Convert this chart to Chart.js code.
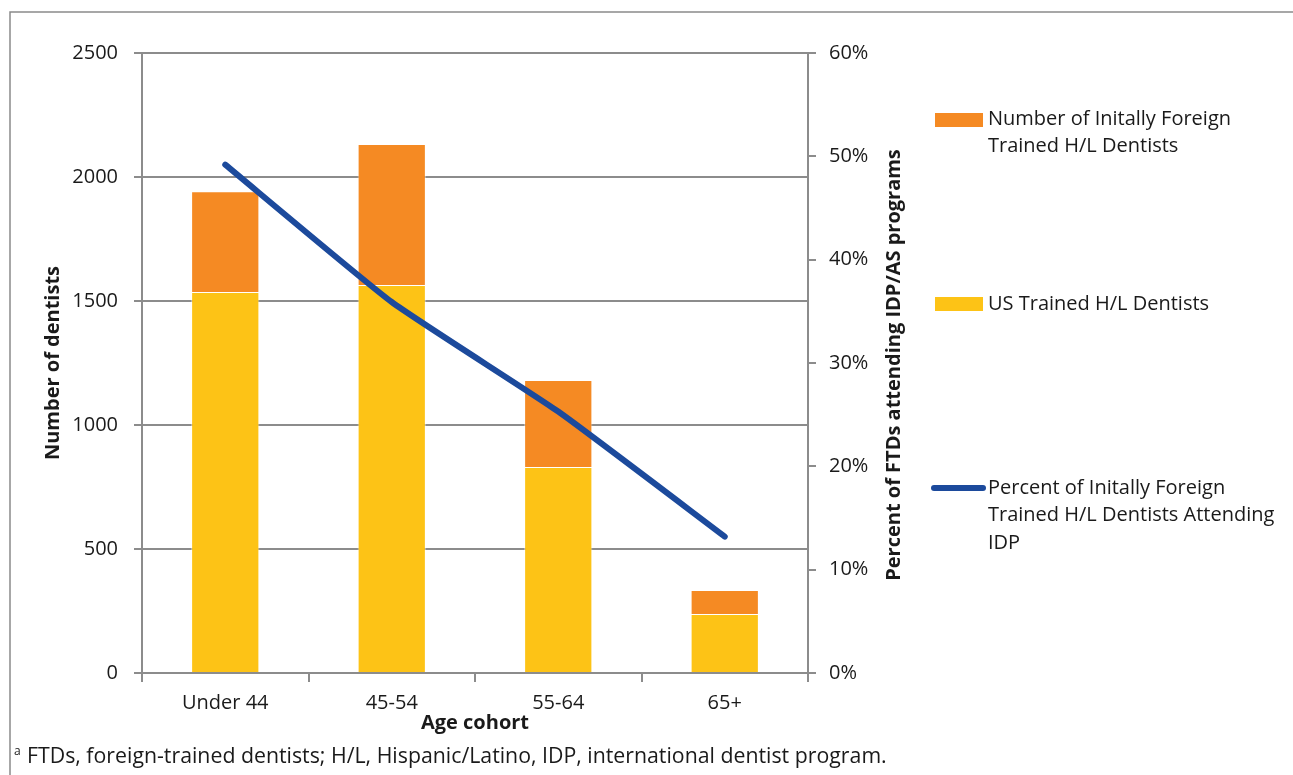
<!DOCTYPE html>
<html>
<head>
<meta charset="utf-8">
<script src="https://cdn.jsdelivr.net/npm/chart.js@4.4.1/dist/chart.umd.min.js"></script>
<style>
  html, body { margin: 0; padding: 0; background: #fff; }
  #wrap { position: relative; width: 1293px; height: 775px; }
  canvas { display: block; }
</style>
</head>
<body>
<div id="wrap"><canvas id="c" width="1293" height="775"></canvas></div>
<script>
// Age cohorts and dentist counts
const ageCohorts = ['Under 44', '45-54', '55-64', '65+'];
const usTrained = [1536, 1565, 831, 238];
const foreignTrained = [407, 568, 350, 97];
// Share of initially foreign-trained dentists who attended an IDP (%)
const pctAttendingIdp = [49.2, 35.9, 25.3, 13.2];

const countAxis = { min: 0, max: 2500, step: 500 };
const pctAxis = { min: 0, max: 60, step: 10 };

const legendLabels = {
  foreign: ['Number of Initally Foreign', 'Trained H/L Dentists'],
  us: ['US Trained H/L Dentists'],
  pct: ['Percent of Initally Foreign', 'Trained H/L Dentists Attending', 'IDP']
};
const footnote = 'FTDs, foreign-trained dentists; H/L, Hispanic/Latino, IDP, international dentist program.';

const FONT = '"Open Sans", "DejaVu Sans", sans-serif';
const FS = 20;
const GRID = '#8c8c8c';
const INK = '#1a1a1a';
const ORANGE = '#F58A23';
const YELLOW = '#FDC316';
const BLUE = '#1C4A9C';

// Frame, right-hand axis title, legend and footnote
const decorations = {
  id: 'decorations',
  afterDraw(chart) {
    const ctx = chart.ctx;
    const area = chart.chartArea;
    ctx.save();

    // frame
    ctx.strokeStyle = '#8a8a8a';
    ctx.lineWidth = 1.5;
    ctx.beginPath();
    ctx.moveTo(10, 775);
    ctx.lineTo(10, 12);
    ctx.lineTo(1293, 12);
    ctx.stroke();

    // right axis title, reading bottom to top
    ctx.fillStyle = INK;
    ctx.font = 'bold ' + FS + 'px ' + FONT;
    ctx.textAlign = 'center';
    ctx.textBaseline = 'middle';
    ctx.save();
    ctx.translate(894, (area.top + area.bottom) / 2 + 2);
    ctx.rotate(-Math.PI / 2);
    ctx.fillText('Percent of FTDs attending IDP/AS programs', 0, 0);
    ctx.restore();

    // legend
    const ds = chart.data.datasets;
    ctx.font = FS + 'px ' + FONT;
    ctx.textAlign = 'left';
    ctx.textBaseline = 'middle';
    const drawLines = (lines, x, y0) => {
      lines.forEach((t, i) => ctx.fillText(t, x, y0 + i * 27.5));
    };
    ctx.fillStyle = ds[1].backgroundColor;
    ctx.fillRect(935, 113, 48, 14);
    ctx.fillStyle = INK;
    drawLines(legendLabels.foreign, 988, 119);

    ctx.fillStyle = ds[0].backgroundColor;
    ctx.fillRect(935, 297, 48, 14);
    ctx.fillStyle = INK;
    drawLines(legendLabels.us, 988, 304);

    ctx.strokeStyle = ds[2].borderColor;
    ctx.lineWidth = 6;
    ctx.lineCap = 'round';
    ctx.beginPath();
    ctx.moveTo(934, 488);
    ctx.lineTo(983, 488);
    ctx.stroke();
    drawLines(legendLabels.pct, 988, 488);

    // footnote
    ctx.textBaseline = 'alphabetic';
    ctx.font = '12px ' + FONT;
    ctx.fillText('a', 14, 755);
    ctx.font = '21.3px ' + FONT;
    ctx.fillText(footnote, 27, 763);

    ctx.restore();
  }
};

function build() {
  new Chart(document.getElementById('c'), {
    type: 'bar',
    data: {
      labels: ageCohorts,
      datasets: [
        {
          label: 'US Trained H/L Dentists',
          data: usTrained,
          backgroundColor: YELLOW,
          borderColor: 'rgba(255,255,255,0.45)',
          borderWidth: 1,
          yAxisID: 'y',
          stack: 'dentists',
          order: 1,
          barPercentage: 0.41,
          categoryPercentage: 1
        },
        {
          label: 'Number of Initally Foreign Trained H/L Dentists',
          data: foreignTrained,
          backgroundColor: ORANGE,
          borderColor: 'rgba(255,255,255,0.45)',
          borderWidth: 1,
          yAxisID: 'y',
          stack: 'dentists',
          order: 1,
          barPercentage: 0.41,
          categoryPercentage: 1
        },
        {
          type: 'line',
          label: 'Percent of Initally Foreign Trained H/L Dentists Attending IDP',
          data: pctAttendingIdp,
          borderColor: BLUE,
          backgroundColor: BLUE,
          borderWidth: 6,
          borderCapStyle: 'round',
          borderJoinStyle: 'round',
          tension: 0.15,
          pointRadius: 0,
          yAxisID: 'y1',
          order: 0
        }
      ]
    },
    options: {
      responsive: false,
      animation: false,
      events: [],
      layout: { padding: { left: 0, right: 385, top: 53, bottom: 40 } },
      plugins: {
        legend: { display: false },
        tooltip: { enabled: false },
        title: { display: false }
      },
      scales: {
        x: {
          stacked: true,
          offset: true,
          afterFit: (s) => { s.height = 62; },
          grid: { display: true, drawOnChartArea: false, offset: true, color: GRID, lineWidth: 2, tickLength: 9 },
          border: { display: true, color: GRID, width: 2 },
          ticks: { color: INK, font: { family: FONT, size: FS }, padding: 9 },
          title: {
            display: true, text: 'Age cohort', color: INK,
            font: { family: FONT, size: FS, weight: 'bold' },
            padding: { top: 0, bottom: 0 }
          }
        },
        y: {
          stacked: true,
          position: 'left',
          min: countAxis.min, max: countAxis.max,
          afterFit: (s) => { s.width = 142; },
          grid: { color: GRID, lineWidth: 2, tickLength: 8 },
          border: { display: true, color: GRID, width: 2 },
          ticks: { stepSize: countAxis.step, color: INK, font: { family: FONT, size: FS }, padding: 16,
                   callback: (v) => String(v) },
          title: {
            display: true, text: 'Number of dentists', color: INK,
            font: { family: FONT, size: FS, weight: 'bold' },
            padding: { top: 41, bottom: 0 }
          }
        },
        y1: {
          position: 'right',
          min: pctAxis.min, max: pctAxis.max,
          afterFit: (s) => { s.width = 100; },
          grid: { drawOnChartArea: false, color: GRID, lineWidth: 2, tickLength: 8 },
          border: { display: true, color: GRID, width: 2 },
          ticks: { stepSize: pctAxis.step, color: INK, font: { family: FONT, size: FS }, padding: 13,
                   callback: (v) => v + '%' }
        }
      }
    },
    plugins: [decorations]
  });
}

if (document.fonts && document.fonts.load) {
  Promise.all([
    document.fonts.load(FS + 'px "Open Sans"'),
    document.fonts.load('bold ' + FS + 'px "Open Sans"')
  ]).then(build, build);
} else {
  build();
}
</script>
</body>
</html>
